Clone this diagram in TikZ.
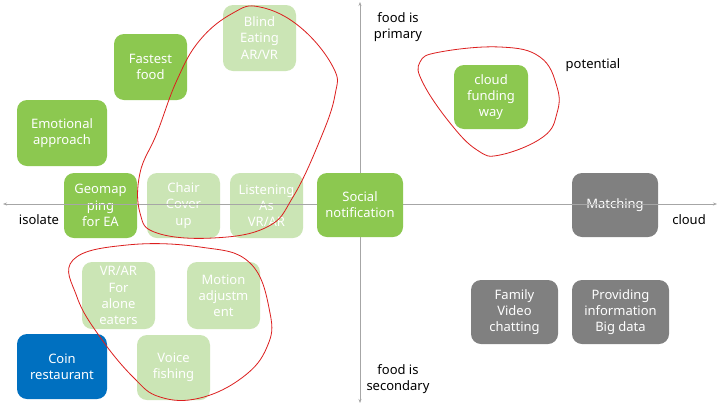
\documentclass[tikz,border=0pt]{standalone}
\usepackage{fontspec}
\setmainfont{Noto Sans}
\usetikzlibrary{arrows.meta}
\definecolor{gdark}{RGB}{140,200,80}
\definecolor{glight}{RGB}{203,229,181}
\definecolor{gray1}{RGB}{128,128,128}
\definecolor{blue1}{RGB}{0,112,192}
\definecolor{axisc}{RGB}{166,166,166}
\definecolor{loopc}{RGB}{220,30,30}
\tikzset{
  box/.style={rounded corners=10pt, text=white, align=center, inner sep=0pt,
    font=\fontsize{13}{16.2}\selectfont},
  gd/.style={box, fill=gdark},
  gl/.style={box, fill=glight},
  gy/.style={box, fill=gray1},
  bl/.style={box, fill=blue1},
  axis/.style={draw=axisc, line width=0.8pt, {Stealth[length=4pt,width=3pt]}-{Stealth[length=4pt,width=3pt]}},
  lab/.style={text=black, align=center, font=\fontsize{13}{16.2}\selectfont},
  loopline/.style={draw=loopc, line width=0.8pt}
}
\begin{document}
\begin{tikzpicture}[x=1pt,y=-1pt]
\useasboundingbox (0,0) rectangle (720,405);
\fill[white] (0,0) rectangle (720,405);
% boxes
\node[gl, minimum width=73pt, minimum height=66pt] (blind) at (259.5,38) {Blind\\Eating\\AR/VR};
\node[gd, minimum width=73pt, minimum height=66pt] (fast) at (150.5,67) {Fastest\\food};
\node[gd, minimum width=90pt, minimum height=66pt] (emo) at (62,133) {Emotional\\approach};
\node[gd, minimum width=73pt, minimum height=65pt] (geo) at (100.5,205.5) {Geomap\\ping\\for EA};
\node[gl, minimum width=73pt, minimum height=65pt] (chair) at (183.5,205.5) {Chair\\Cover\\up};
\node[gl, minimum width=73pt, minimum height=65pt] (listen) at (266.5,205.5) {Listening\\As\\VR/AR};
\node[gy, minimum width=86pt, minimum height=64pt] (match) at (615,205) {Matching};
\node[gd, minimum width=74pt, minimum height=64pt] (cloudf) at (491,97) {cloud\\funding\\way};
\node[gl, minimum width=73pt, minimum height=67pt] (vrar) at (118.5,295.5) {VR/AR\\For\\alone\\eaters};
\node[gl, minimum width=73pt, minimum height=67pt] (motion) at (223.5,295.5) {Motion\\adjustm\\ent};
\node[bl, minimum width=90pt, minimum height=65pt] (coin) at (62,366.5) {Coin\\restaurant};
\node[gl, minimum width=73pt, minimum height=65pt] (voice) at (173.5,367.5) {Voice\\fishing};
\node[gy, minimum width=87pt, minimum height=64pt] (family) at (514.5,312) {Family\\Video\\chatting};
\node[gy, minimum width=97pt, minimum height=64pt] (provide) at (620.5,312) {Providing\\information\\Big data};
% axes
\coordinate (xl) at (3,204);
\coordinate (xr) at (717,204);
\coordinate (yt) at (360,2);
\coordinate (yb) at (360,403);
\draw[axis] (xl) -- (xr);
\draw[axis] (yt) -- (yb);
% box on top of axes
\node[gd, minimum width=86pt, minimum height=64pt] (social) at (360,205) {Social\\notification};
% labels
\node[lab] (isolate) at (39,220) {isolate};
\node[lab] (cloudl) at (689,220) {cloud};
\node[lab] (primary) at (398,27) {food is\\primary};
\node[lab] (potential) at (593,65) {potential};
\node[lab] (secondary) at (398,379) {food is\\secondary};
% loops
\draw[loopline] plot[smooth cycle, tension=0.7] coordinates {(233,13) (260,7) (300,27) (333,67) (335,95) (320,140) (293,197) (267,227) (213,238) (157,233) (140,213) (140,173) (157,133) (177,80) (200,40)};
\draw[loopline] plot[smooth cycle, tension=0.7] coordinates {(73,260) (127,245) (200,247) (250,263) (270,313) (267,347) (243,377) (200,398) (160,397) (133,377) (100,337) (77,297)};
\draw[loopline] plot[smooth cycle, tension=0.7] coordinates {(420,62) (440,52) (500,47) (540,57) (557,87) (557,113) (543,137) (500,155) (477,150) (450,123) (423,83)};
\end{tikzpicture}
\end{document}
